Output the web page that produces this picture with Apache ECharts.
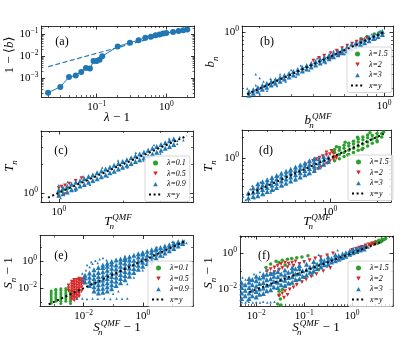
<!DOCTYPE html>
<html>
<head>
<meta charset="utf-8">
<script src="https://cdn.jsdelivr.net/npm/echarts@6/dist/echarts.min.js"></script>
<style>
html, body { margin: 0; padding: 0; background: #fff; }
#chart { width: 415px; height: 352px; }
</style>
</head>
<body>
<div id="chart"></div>
<script>
// ---- data ----
// (a) mean 1-<b> against lambda-1
const aX = [0.02, 0.03, 0.04, 0.05, 0.06, 0.07, 0.08, 0.09, 0.10, 0.11, 0.12, 0.2, 0.3, 0.4, 0.5, 0.6, 0.7, 0.8, 0.9, 1.0, 1.25, 1.5, 1.75, 2.0];
const aY = [2.1e-4, 3.9e-4, 1.1e-3, 1.3e-3, 1.9e-3, 2.9e-3, 2.75e-3, 6e-3, 6.1e-3, 6.9e-3, 0.010, 0.028, 0.042, 0.054, 0.071, 0.079, 0.092, 0.10, 0.11, 0.117, 0.13, 0.145, 0.155, 0.17];
const aFitX = [0.02, 2.0];
const aFitY = [0.0033, 0.19];

// (b) b_n vs b_n^QMF
const bBlue = [[0.174,0.184],[0.174,0.165],[0.184,0.194],[0.184,0.175],[0.195,0.206],[0.195,0.185],[0.207,0.219],[0.207,0.196],[0.219,0.231],[0.219,0.208],[0.232,0.245],[0.232,0.221],[0.245,0.259],[0.245,0.233],[0.26,0.274],[0.26,0.247],[0.275,0.29],[0.275,0.262],[0.292,0.308],[0.292,0.278],[0.309,0.326],[0.309,0.294],[0.327,0.344],[0.327,0.311],[0.347,0.366],[0.347,0.33],[0.367,0.386],[0.367,0.349],[0.389,0.41],[0.389,0.37],[0.412,0.434],[0.412,0.392],[0.437,0.46],[0.437,0.416],[0.462,0.487],[0.462,0.44],[0.49,0.516],[0.49,0.467],[0.519,0.547],[0.519,0.494],[0.55,0.579],[0.55,0.524],[0.582,0.612],[0.582,0.555],[0.617,0.649],[0.617,0.588],[0.653,0.687],[0.653,0.622],[0.692,0.728],[0.692,0.66],[0.733,0.771],[0.733,0.699],[0.776,0.816],[0.776,0.74],[0.822,0.864],[0.822,0.784],[0.871,0.915],[0.871,0.831],[0.923,0.968],[0.923,0.88],[0.977,1.02],[0.977,0.935]];
const bBlueOut = [[0.17,0.2],[0.18,0.155],[0.19,0.3],[0.2,0.27],[0.19,0.22],[0.2,0.172],[0.21,0.245],[0.22,0.188],[0.23,0.265],[0.25,0.215],[0.26,0.3],[0.28,0.245],[0.3,0.34],[0.32,0.28],[0.34,0.385],[0.38,0.335],[0.42,0.475],[0.47,0.415],[0.52,0.585],[0.6,0.535],[0.66,0.735],[0.75,0.675],[0.85,0.94],[0.9,0.82]];
const bRed = [[0.4,0.445],[0.43,0.48],[0.46,0.51],[0.5,0.55],[0.54,0.59],[0.58,0.635],[0.62,0.68],[0.66,0.72],[0.7,0.76],[0.5,0.47],[0.56,0.52],[0.64,0.6],[0.75,0.8],[0.8,0.85]];
const bGreen = [[0.74,0.83],[0.8,0.88],[0.88,0.95],[0.95,1.0]];
const bDiag = [0.17, 1.0];

// (c) T_n vs T_n^QMF
const cBlue = [[1.0,0.94],[1.0,1.07],[1.047,0.975],[1.047,1.125],[1.096,1.02],[1.096,1.17],[1.148,1.075],[1.148,1.235],[1.202,1.12],[1.202,1.29],[1.259,1.18],[1.259,1.345],[1.318,1.225],[1.318,1.41],[1.38,1.29],[1.38,1.485],[1.445,1.35],[1.445,1.545],[1.514,1.41],[1.514,1.625],[1.585,1.48],[1.585,1.70],[1.66,1.545],[1.66,1.78],[1.738,1.625],[1.738,1.86],[1.82,1.695],[1.82,1.955],[1.905,1.78],[1.905,2.04],[1.995,1.86],[1.995,2.14],[2.089,1.95],[2.089,2.235],[2.188,2.04],[2.188,2.345],[2.291,2.14],[2.291,2.455],[2.399,2.235],[2.399,2.57],[2.512,2.345],[2.512,2.69],[2.63,2.455],[2.63,2.82],[2.754,2.57],[2.754,2.95],[2.884,2.69],[2.884,3.09],[3.02,2.82],[3.02,3.235],[3.162,2.95],[3.162,3.385],[3.311,3.09],[3.311,3.55],[3.467,3.235],[3.467,3.71]];
const cBlueOut = [[1.0,1.2],[1.02,0.88],[1.1,1.3],[1.2,1.05],[1.3,1.5],[1.4,1.22],[1.6,1.85],[1.7,1.48],[1.9,2.2],[2.1,1.85],[2.3,2.65],[2.5,2.2],[2.8,3.2],[3.0,2.6],[3.3,3.75],[3.6,3.3],[3.7,3.9],[3.85,3.6],[3.6,3.55]];
const cRed = [[1.0,1.12],[1.03,1.16],[1.07,1.2],[1.12,1.25],[1.2,1.34],[1.28,1.43],[1.0,0.92],[1.06,0.97]];
const cGreen = [[1.0,1.02],[1.05,1.08],[1.1,1.12]];
const cDiag = [0.89, 4.0];

// (d) T_n vs T_n^QMF, lambda > 1
const dBlue = [[0.302,0.269],[0.302,0.316],[0.324,0.282],[0.324,0.324],[0.324,0.372],[0.347,0.288],[0.347,0.331],[0.347,0.38],[0.347,0.427],[0.372,0.309],[0.372,0.355],[0.372,0.407],[0.372,0.457],[0.398,0.331],[0.398,0.38],[0.398,0.437],[0.398,0.49],[0.427,0.355],[0.427,0.407],[0.427,0.468],[0.427,0.525],[0.457,0.38],[0.457,0.437],[0.457,0.501],[0.457,0.562],[0.49,0.407],[0.49,0.468],[0.49,0.537],[0.49,0.603],[0.525,0.437],[0.525,0.501],[0.525,0.575],[0.525,0.646],[0.562,0.468],[0.562,0.537],[0.562,0.617],[0.562,0.692],[0.603,0.501],[0.603,0.575],[0.603,0.661],[0.603,0.741],[0.646,0.537],[0.646,0.617],[0.646,0.708],[0.646,0.794],[0.692,0.575],[0.692,0.661],[0.692,0.759],[0.692,0.851],[0.741,0.617],[0.741,0.708],[0.741,0.813],[0.741,0.912],[0.794,0.661],[0.794,0.759],[0.794,0.871],[0.794,0.977],[0.851,0.741],[0.851,0.851],[0.851,0.977],[0.912,0.813],[0.912,0.933],[0.912,1.047],[0.977,0.891],[0.977,1.023]];
const dBlueOut = [[0.29,0.25],[0.3,0.3],[0.31,0.36],[0.33,0.265],[0.35,0.41],[0.38,0.3],[0.4,0.47],[0.44,0.35],[0.47,0.55],[0.5,0.4],[0.55,0.64],[0.6,0.48],[0.66,0.78],[0.72,0.58],[0.32,0.4],[0.36,0.45],[0.42,0.32],[0.28,0.28]];
const dRed = [[0.7,0.8],[0.74,0.86],[0.78,0.91],[0.82,0.96],[0.86,1.01],[0.9,1.06],[0.95,1.1],[1.0,1.13],[1.05,1.16],[0.8,0.66],[0.84,0.7],[0.88,0.74],[0.92,0.79],[0.96,0.84],[1.0,0.9],[1.05,0.96],[1.08,1.04],[1.1,1.0],[0.95,1.2],[1.02,1.26]];
const dGreen = [[1.07,0.912],[1.07,1.047],[1.07,1.2],[1.07,1.318],[1.148,0.977],[1.148,1.122],[1.148,1.288],[1.148,1.413],[1.23,1.047],[1.23,1.2],[1.23,1.38],[1.23,1.514],[1.318,1.122],[1.318,1.288],[1.318,1.479],[1.318,1.622],[1.413,1.2],[1.413,1.38],[1.413,1.585],[1.413,1.738],[1.514,1.288],[1.514,1.479],[1.514,1.698],[1.514,1.862],[1.622,1.38],[1.622,1.585],[1.622,1.82],[1.622,1.995],[1.738,1.479],[1.738,1.698],[1.738,1.95],[1.738,2.138],[1.862,1.622],[1.862,1.862],[1.862,2.089],[1.995,1.778],[1.995,1.995],[1.995,2.239],[2.138,1.995],[2.138,2.239],[1.1,1.45],[1.25,1.68],[1.5,1.98],[1.8,2.3],[1.3,1.1],[1.6,1.32],[2.2,2.35],[1.05,1.25],[2.0,1.7]];
const dDiag = [0.3, 2.2];

// (e) S_n-1 vs S_n^QMF-1, lambda < 1
const eGreen = [[8e-4,8e-4],[8e-4,1.15e-3],[8e-4,1.6e-3],[8e-4,2.3e-3],[8e-4,3.3e-3],[8e-4,4.6e-3],[8e-4,6.2e-3],[1.15e-3,1.1e-3],[1.15e-3,1.6e-3],[1.15e-3,2.3e-3],[1.15e-3,3.3e-3],[1.15e-3,4.7e-3],[1.15e-3,6.7e-3],[1.15e-3,8.5e-3],[1.7e-3,7.5e-4],[1.7e-3,1.1e-3],[1.7e-3,1.6e-3],[1.7e-3,2.3e-3],[1.7e-3,3.3e-3],[1.7e-3,4.7e-3],[1.7e-3,6.7e-3],[1.7e-3,9e-3],[2.5e-3,1.1e-3],[2.5e-3,1.6e-3],[2.5e-3,2.3e-3],[2.5e-3,3.3e-3],[2.5e-3,4.7e-3],[2.5e-3,6.7e-3],[2.5e-3,9.5e-3],[3.6e-3,7.5e-4],[3.6e-3,1.1e-3],[3.6e-3,1.6e-3],[3.6e-3,2.3e-3],[3.6e-3,3.3e-3],[3.6e-3,4.7e-3],[3.6e-3,6.5e-3]];
const eRed = [[3.1e-3,6.5e-3],[3.1e-3,0.01],[3.1e-3,0.016],[4e-3,1.5e-3],[4e-3,2.3e-3],[4e-3,3.5e-3],[4e-3,5.5e-3],[4e-3,8.5e-3],[4e-3,0.013],[4e-3,0.02],[4e-3,0.03],[4.8e-3,1.3e-3],[4.8e-3,2e-3],[4.8e-3,3e-3],[4.8e-3,4.6e-3],[4.8e-3,7e-3],[4.8e-3,0.011],[4.8e-3,0.017],[4.8e-3,0.027],[4.8e-3,0.04],[5.8e-3,1.8e-3],[5.8e-3,2.8e-3],[5.8e-3,4.3e-3],[5.8e-3,6.5e-3],[5.8e-3,0.01],[5.8e-3,0.016],[5.8e-3,0.025],[5.8e-3,0.04],[7e-3,2.5e-3],[7e-3,4e-3],[7e-3,6e-3],[7e-3,9e-3],[7e-3,0.014],[7e-3,0.022],[7e-3,0.035],[7e-3,0.05],[8.5e-3,0.006],[8.5e-3,0.012],[8.5e-3,0.02],[8.5e-3,0.03],[8.5e-3,0.045],[0.01,0.025],[0.01,0.04]];
const eBlue = [[0.0112,0.028],[0.0112,0.056],[0.0112,0.089],[0.0158,0.016],[0.0158,0.032],[0.0158,0.063],[0.0158,0.126],[0.0224,0.0063],[0.0224,0.0126],[0.0224,0.025],[0.0224,0.05],[0.0224,0.1],[0.0224,0.22],[0.0316,0.0045],[0.0316,0.0089],[0.0316,0.018],[0.0316,0.035],[0.0316,0.071],[0.0316,0.14],[0.0316,0.32],[0.0447,0.005],[0.0447,0.01],[0.0447,0.02],[0.0447,0.04],[0.0447,0.079],[0.0447,0.16],[0.0447,0.32],[0.0447,0.5],[0.063,0.0063],[0.063,0.0126],[0.063,0.025],[0.063,0.05],[0.063,0.1],[0.063,0.2],[0.063,0.4],[0.063,0.66],[0.089,0.0089],[0.089,0.018],[0.089,0.035],[0.089,0.071],[0.089,0.14],[0.089,0.28],[0.089,0.56],[0.089,0.89],[0.126,0.016],[0.126,0.032],[0.126,0.063],[0.126,0.126],[0.126,0.25],[0.126,0.5],[0.126,1.12],[0.178,0.025],[0.178,0.05],[0.178,0.1],[0.178,0.2],[0.178,0.4],[0.178,0.79],[0.178,1.35],[0.251,0.042],[0.251,0.083],[0.251,0.166],[0.251,0.33],[0.251,0.66],[0.251,1.26],[0.251,1.66],[0.355,0.074],[0.355,0.148],[0.355,0.3],[0.355,0.59],[0.355,1.12],[0.355,2.0],[0.5,0.138],[0.5,0.275],[0.5,0.55],[0.5,1.1],[0.5,2.5],[0.708,0.24],[0.708,0.48],[0.708,0.95],[0.708,1.9],[0.708,3.2],[1.0,0.4],[1.0,0.79],[1.0,1.58],[1.0,3.16],[1.0,4.0],[1.41,0.63],[1.41,1.26],[1.41,2.5],[1.41,5.0],[2.0,1.0],[2.0,2.0],[2.0,4.0],[2.0,6.3],[2.82,1.66],[2.82,3.16],[2.82,6.3],[2.82,7.9],[3.98,2.5],[3.98,5.0],[3.98,9.5],[5.6,3.7],[5.6,7.1],[5.6,12],[7.9,5.4],[7.9,10],[7.9,15],[11.2,7.9],[11.2,14],[11.2,20],[15.8,12],[15.8,20],[15.8,25],[22.4,18],[22.4,26]];
const eBlueOut = [[0.012,0.2],[0.013,0.5],[0.016,0.35],[0.018,0.8],[0.02,0.6],[0.025,1.0],[0.03,0.7],[0.035,1.3],[0.045,1.6],[0.06,1.1],[0.009,0.12],[0.01,0.07],[0.008,0.04],[0.006,0.0017],[0.009,0.0018],[0.013,0.0016],[0.02,0.0018],[0.03,0.0017],[0.05,0.0018],[0.08,0.0016],[0.13,0.0018],[0.2,0.0017],[0.3,0.0018],[0.3,0.02],[0.5,0.06],[1.0,0.2],[2.0,0.6],[5,2.0],[0.15,0.006],[0.1,0.004],[30,20],[25,30],[10,25],[3,10],[0.7,3.5],[0.25,2.2]];
const eDiag = [6.6e-4, 26];

// (f) S_n-1 vs S_n^QMF-1, lambda > 1
const fBlue = [[0.005,0.00316],[0.005,0.0063],[0.005,0.0126],[0.005,0.0224],[0.0059,0.0045],[0.0059,0.0089],[0.0059,0.0178],[0.0071,0.00316],[0.0071,0.0063],[0.0071,0.0126],[0.0071,0.0251],[0.0071,0.0398],[0.0083,0.0045],[0.0083,0.0089],[0.0083,0.0178],[0.0083,0.0355],[0.01,0.0038],[0.01,0.0076],[0.01,0.0151],[0.01,0.0302],[0.01,0.0525],[0.0117,0.0054],[0.0117,0.0107],[0.0117,0.0214],[0.0117,0.0427],[0.0141,0.006],[0.0141,0.012],[0.0141,0.024],[0.0141,0.0479],[0.0141,0.066],[0.0166,0.0085],[0.0166,0.017],[0.0166,0.0339],[0.0166,0.0676],[0.02,0.0095],[0.02,0.019],[0.02,0.038],[0.02,0.0759],[0.0234,0.0135],[0.0234,0.0269],[0.0234,0.0537],[0.0234,0.0891],[0.0282,0.0126],[0.0282,0.0251],[0.0282,0.0501],[0.0282,0.0955],[0.0331,0.0178],[0.0331,0.0355],[0.0331,0.0708],[0.0398,0.0158],[0.0398,0.0316],[0.0398,0.063],[0.0398,0.117],[0.0468,0.0224],[0.0468,0.0447],[0.0468,0.0891],[0.0562,0.0251],[0.0562,0.0501],[0.0562,0.1],[0.0562,0.158],[0.066,0.0355],[0.066,0.0708],[0.066,0.135],[0.0794,0.038],[0.0794,0.0759],[0.0794,0.141],[0.0794,0.209],[0.0933,0.0537],[0.0933,0.107],[0.112,0.063],[0.112,0.12],[0.112,0.24],[0.132,0.0891],[0.132,0.17],[0.158,0.105],[0.158,0.19],[0.158,0.347],[0.186,0.141],[0.186,0.251],[0.224,0.174],[0.224,0.302],[0.224,0.468],[0.263,0.224],[0.263,0.38],[0.316,0.251],[0.316,0.398],[0.316,0.603],[0.372,0.316],[0.372,0.501],[0.447,0.38],[0.447,0.575],[0.447,0.794],[0.525,0.457],[0.525,0.708],[0.631,0.562],[0.631,0.891],[0.741,0.661],[0.741,1.047],[0.891,0.851],[0.891,1.35],[1.047,1.047],[1.047,1.585],[1.259,1.23],[1.259,1.778],[1.479,1.445],[1.479,1.995],[1.778,1.66],[1.778,2.29]];
const fBlueOut = [[0.005,0.002],[0.006,0.0019],[0.007,0.0021],[0.0085,0.0019],[0.01,0.002],[0.012,0.0019],[0.014,0.0021],[0.017,0.0019],[0.02,0.002],[0.024,0.0021],[0.0048,0.03],[0.0052,0.045],[0.006,0.035],[0.0065,0.0025],[0.009,0.07],[0.012,0.09],[0.016,0.11],[0.03,0.15],[0.05,0.25],[0.1,0.35],[0.2,0.8],[0.5,1.4],[0.15,0.06],[0.3,0.18],[0.6,0.45],[2.0,2.6],[2.2,2.0]];
const fRed = [[0.017,0.1],[0.02,0.13],[0.024,0.16],[0.028,0.2],[0.033,0.25],[0.04,0.3],[0.047,0.26],[0.056,0.3],[0.066,0.35],[0.02,0.07],[0.024,0.09],[0.03,0.12],[0.035,0.15],[0.045,0.17],[0.06,0.2],[0.08,0.25],[0.1,0.32],[0.13,0.4],[0.17,0.5],[0.22,0.6],[0.3,0.75],[0.4,0.95],[0.035,0.006],[0.04,0.008],[0.045,0.005],[0.05,0.01],[0.06,0.013],[0.07,0.018],[0.09,0.025],[0.11,0.035],[0.14,0.05],[0.18,0.07],[0.25,0.1],[0.35,0.15],[0.03,0.0045],[0.038,0.0035],[1.0,1.5],[1.2,1.7],[1.4,2.0],[1.6,2.2],[1.9,2.6],[2.2,3.0],[2.6,3.3],[3.0,3.6],[1.3,1.3],[1.6,1.6],[2.0,2.0],[2.4,2.4],[2.8,2.9]];
const fGreen = [[2.4,2.9],[2.8,3.3],[3.2,3.8],[3.7,4.3],[4.2,4.9],[4.7,5.6],[2.6,3.6],[3.1,4.3],[3.6,5.0],[4.2,5.8],[5.0,6.3],[3.4,3.4],[4.0,4.2],[0.02,0.25],[0.026,0.35],[0.03,0.3],[0.035,0.4],[0.045,0.45],[0.055,0.5],[0.07,0.55],[0.09,0.6],[0.12,0.7],[0.016,0.16],[0.04,0.22],[0.03,0.008],[0.035,0.01],[0.03,0.005],[0.032,0.003],[0.028,0.0016],[0.033,0.0014],[0.04,0.015],[0.05,0.02],[0.07,0.03],[0.1,0.045],[0.15,0.08],[0.2,0.12]];
const fDiag = [0.0072, 4.4];

// legend names
const lamHigh = ['λ=1.5', 'λ=2', 'λ=3'];
const lamLow = ['λ=0.1', 'λ=0.5', 'λ=0.9'];

// ---- layout / styling ----
const FONT = 'Liberation Serif, DejaVu Serif, serif';
const GREEN = '#2ca02c', RED = '#d62728', BLUE = '#1f77b4';
const DOWN = 'path://M0,0L10,0L5,9Z';
// legend icons padded out to the 13x5 legend slot so they keep their shape
const ICON_UP = 'path://M0,0M13,5M4.2,4.8L6.5,0.6L8.8,4.8Z';
const ICON_DOWN = 'path://M0,0M13,5M4.2,0.4L8.8,0.4L6.5,4.6Z';
const SUBS = [2, 3, 4, 5, 6, 7, 8, 9];

function subTicks(range, subs) {
  const out = [];
  const lo = Math.floor(Math.log10(range[0])), hi = Math.ceil(Math.log10(range[1]));
  for (let e = lo; e <= hi; e++) {
    subs.forEach(s => {
      const v = parseFloat((s * Math.pow(10, e)).toPrecision(6));
      if (v >= range[0] && v <= range[1]) out.push(v);
    });
  }
  return out;
}

const panels = [
  { box: [41.5, 26, 153, 71], x: [0.0161, 2.54], y: [1.34e-4, 0.245],
    xMaj: [0.1, 1], yMaj: [1e-3, 1e-2, 1e-1], xMin: subTicks([0.0161, 2.54], SUBS), yMin: subTicks([1.34e-4, 0.245], SUBS) },
  { box: [242, 26, 151, 70], x: [0.159, 1.12], y: [0.162, 1.19],
    xMaj: [1], yMaj: [1], xMin: subTicks([0.159, 1.12], SUBS), yMin: subTicks([0.162, 1.19], SUBS) },
  { box: [41, 131, 152, 71.5], x: [0.825, 4.27], y: [0.79, 4.5],
    xMaj: [1], yMaj: [1], xMin: subTicks([0.825, 4.27], SUBS), yMin: subTicks([0.79, 4.5], SUBS) },
  { box: [242, 130, 149, 72], x: [0.275, 2.45], y: [0.235, 2.51],
    xMaj: [1], yMaj: [1], xMin: subTicks([0.275, 2.45], SUBS), yMin: subTicks([0.235, 2.51], SUBS) },
  { box: [40, 235.5, 153, 70.5], x: [3.35e-4, 50], y: [5e-4, 70],
    xMaj: [1e-2, 1], yMaj: [1e-2, 1], xMin: [1e-3, 1e-1, 10], yMin: [1e-3, 1e-1, 10] },
  { box: [240, 236, 153, 70], x: [4.6e-3, 7.1], y: [1.23e-3, 8.6],
    xMaj: [1e-2, 1e-1, 1], yMaj: [1e-2, 1], xMin: subTicks([4.6e-3, 7.1], SUBS), yMin: [1e-1] }
];

const tickRich = {
  b: { fontFamily: FONT, fontSize: 11, lineHeight: 14, color: '#000' },
  s: { fontFamily: FONT, fontSize: 7.5, lineHeight: 7, verticalAlign: 'top', color: '#000' }
};
function powLabel(v) {
  const e = Math.round(Math.log10(v));
  return '{b|10}{s|' + (e < 0 ? '\u2212' + (-e) : e) + '}';
}

function makeAxes(gi, range, major, minor, sides) {
  const out = [];
  sides.forEach((side, k) => {
    const base = {
      type: 'log', logBase: 10, gridIndex: gi, position: side, min: range[0], max: range[1],
      splitLine: { show: false },
      axisPointer: { show: false }
    };
    out.push(Object.assign({}, base, {
      axisLine: { show: true, onZero: false, lineStyle: { color: '#000', width: 0.8 } },
      axisTick: { show: true, inside: true, length: 3.5, lineStyle: { color: '#000', width: 0.8 }, customValues: major },
      axisLabel: { show: k === 0, customValues: major, formatter: powLabel, rich: tickRich, margin: 3, hideOverlap: false }
    }));
    out.push(Object.assign({}, base, {
      axisLine: { show: false },
      axisTick: { show: true, inside: true, length: 2, lineStyle: { color: '#000', width: 0.6 }, customValues: minor },
      axisLabel: { show: false }
    }));
  });
  return out;
}

const grids = [], xAxes = [], yAxes = [];
panels.forEach((p, gi) => {
  grids.push({ left: p.box[0], top: p.box[1], width: p.box[2], height: p.box[3], outerBoundsMode: 'none', containLabel: false });
  xAxes.push(...makeAxes(gi, p.x, p.xMaj, p.xMin, ['bottom', 'top']));
  yAxes.push(...makeAxes(gi, p.y, p.yMaj, p.yMin, ['left', 'right']));
});

function scat(gi, name, data, symbol, color, size) {
  return { type: 'scatter', name, xAxisIndex: gi * 4, yAxisIndex: gi * 4, data, symbol, symbolSize: size,
    itemStyle: { color, opacity: 1 }, silent: true, z: 2 };
}
function diag(gi, ends) {
  return { type: 'line', name: 'x=y', xAxisIndex: gi * 4, yAxisIndex: gi * 4,
    data: ends.map(v => [v, v]), symbol: 'none', silent: true, z: 5,
    itemStyle: { color: '#000', opacity: 0 },
    lineStyle: { color: '#000', width: 2, type: [2, 2.6] } };
}
function cloud(gi, names, green, red, blue, blueOut, gSize) {
  return [
    scat(gi, names[0], green, 'circle', GREEN, gSize || 3.5),
    scat(gi, names[1], red, DOWN, RED, 3.8),
    scat(gi, names[2], blueOut, 'triangle', BLUE, 2.5),
    scat(gi, names[2], blue, 'triangle', BLUE, 5)
  ];
}

const series = [
  { type: 'line', name: 'mean', xAxisIndex: 0, yAxisIndex: 0, data: aX.map((v, i) => [v, aY[i]]),
    symbol: 'circle', symbolSize: 6, itemStyle: { color: BLUE }, lineStyle: { color: BLUE, width: 1 }, silent: true },
  { type: 'line', name: 'fit', xAxisIndex: 0, yAxisIndex: 0, data: aFitX.map((v, i) => [v, aFitY[i]]),
    symbol: 'none', lineStyle: { color: BLUE, width: 1.2, type: [5, 2.5] }, silent: true },
  ...cloud(1, lamHigh, bGreen, bRed, bBlue, bBlueOut), diag(1, bDiag),
  ...cloud(2, lamLow, cGreen, cRed, cBlue, cBlueOut), diag(2, cDiag),
  ...cloud(3, lamHigh, dGreen, dRed, dBlue, dBlueOut), diag(3, dDiag),
  ...cloud(4, lamLow, eGreen, eRed, eBlue, eBlueOut, 3), diag(4, eDiag),
  ...cloud(5, lamHigh, fGreen, fRed, fBlue, fBlueOut), diag(5, fDiag)
];

function legend(left, top, names) {
  return {
    left, top, orient: 'vertical', selectedMode: false,
    data: [
      { name: names[0], icon: 'circle' },
      { name: names[1], icon: ICON_DOWN },
      { name: names[2], icon: ICON_UP },
      { name: 'x=y' }
    ],
    itemWidth: 13, itemHeight: 5, itemGap: 2.5, padding: [3, 4, 3, 3], symbolKeepAspect: true,
    borderColor: '#cccccc', borderWidth: 0.8, borderRadius: 2, backgroundColor: 'rgba(255,255,255,0.8)',
    textStyle: { fontFamily: FONT, fontSize: 8, fontStyle: 'italic', color: '#000' }
  };
}

const titleRich = {
  r: { fontFamily: FONT, fontSize: 13, lineHeight: 18, color: '#000' },
  i: { fontFamily: FONT, fontSize: 13, fontStyle: 'italic', lineHeight: 18, color: '#000' },
  sb: { fontFamily: FONT, fontSize: 9, fontStyle: 'italic', lineHeight: 9, verticalAlign: 'bottom', color: '#000' },
  sz: { fontFamily: FONT, fontSize: 9, fontStyle: 'italic', lineHeight: 9, verticalAlign: 'bottom', width: 1, color: '#000' },
  sp: { fontFamily: FONT, fontSize: 9, fontStyle: 'italic', lineHeight: 9, verticalAlign: 'top', color: '#000' }
};
function label(x, y, text, rotate) {
  return { type: 'text', x, y, rotation: rotate ? Math.PI / 2 : 0, silent: true,
    style: { text, rich: titleRich, align: 'center', verticalAlign: 'middle' } };
}
function letter(x, y, t) {
  return { type: 'text', x, y, silent: true,
    style: { text: t, fontFamily: FONT, fontSize: 12, fill: '#000', align: 'center', verticalAlign: 'middle' } };
}

const graphic = [
  label(10, 55, '{r|1 \u2212 \u27e8}{i|b}{r|\u27e9}', true),
  label(117, 118, '{i|λ}{r| \u2212 1}'),
  label(211, 62, '{i|b}{sb|n}', true),
  label(318, 121, '{i|b}{sz|n}{sp|QMF}'),
  label(10, 166, '{i|T}{sb|n}', true),
  label(118, 222, '{i|T}{sz|n}{sp|QMF}'),
  label(209, 166, '{i|T}{sb|n}', true),
  label(317, 222, '{i|T}{sz|n}{sp|QMF}'),
  label(9, 273, '{i|S}{sb|n}{r| \u2212 1}', true),
  label(117, 328, '{i|S}{sz|n}{sp|QMF}{r| \u2212 1}'),
  label(209, 273, '{i|S}{sb|n}{r| \u2212 1}', true),
  label(316, 328, '{i|S}{sz|n}{sp|QMF}{r| \u2212 1}'),
  letter(62, 42, '(a)'), letter(267, 42, '(b)'),
  letter(61, 151, '(c)'), letter(266, 151, '(d)'),
  letter(61, 256, '(e)'), letter(264, 256, '(f)')
];

const chart = echarts.init(document.getElementById('chart'));
chart.setOption({
  animation: false,
  backgroundColor: '#fff',
  grid: grids,
  xAxis: xAxes,
  yAxis: yAxes,
  legend: [
    legend(347, 47, lamHigh),
    legend(145, 156, lamLow),
    legend(348, 155, lamHigh),
    legend(148, 261, lamLow),
    legend(348, 261, lamHigh)
  ],
  graphic,
  series
});
</script>
</body>
</html>
